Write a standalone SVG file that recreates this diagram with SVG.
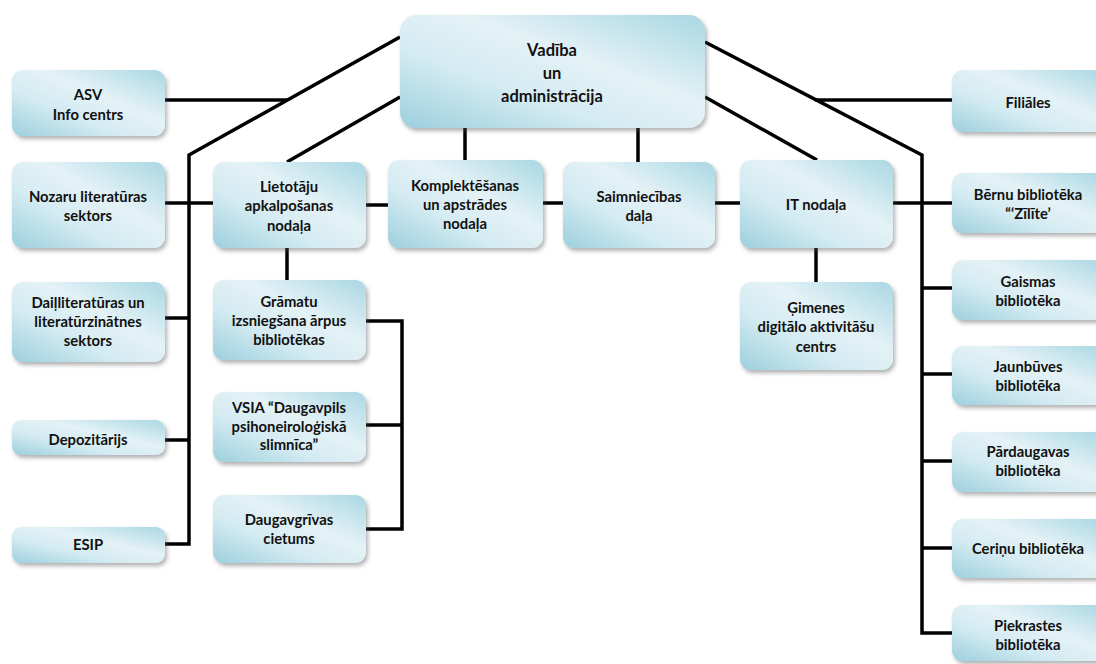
<svg xmlns="http://www.w3.org/2000/svg" width="1096" height="664" viewBox="0 0 1096 664">
<defs>
<linearGradient id="g" x1="0" y1="1" x2="1" y2="0">
<stop offset="0" stop-color="#9ccfdd"/>
<stop offset="0.35" stop-color="#d4ebf2"/>
<stop offset="0.6" stop-color="#e4f2f6"/>
<stop offset="1" stop-color="#a9d7e3"/>
</linearGradient>
<filter id="sh" x="-10%" y="-10%" width="125%" height="135%">
<feDropShadow dx="2" dy="3" stdDeviation="2" flood-color="#555" flood-opacity="0.45"/>
</filter>
</defs>
<style>
.b{fill:url(#g);filter:url(#sh)}
.t{font-family:Lato,"Open Sans","Liberation Sans",sans-serif;font-weight:bold;font-size:14.8px;fill:#111;text-anchor:middle}
.big{font-size:16.5px}
.c{stroke:#000;stroke-width:3.5;fill:none}
</style>
<rect width="1096" height="664" fill="#fff"/>
<g id="connectors">
<polyline class="c" points="400,37 189,155 189,544 165,544"/>
<line class="c" x1="165" y1="100" x2="287" y2="100"/>
<line class="c" x1="165" y1="203" x2="213" y2="203"/>
<line class="c" x1="165" y1="318" x2="189" y2="318"/>
<line class="c" x1="165" y1="440" x2="189" y2="440"/>
<line class="c" x1="400" y1="97" x2="287" y2="162"/>
<line class="c" x1="366" y1="205" x2="388" y2="205"/>
<line class="c" x1="543" y1="203" x2="563" y2="203"/>
<line class="c" x1="715" y1="203" x2="740" y2="203"/>
<line class="c" x1="465" y1="128" x2="465" y2="160"/>
<line class="c" x1="638" y1="128" x2="638" y2="162"/>
<line class="c" x1="287" y1="248" x2="287" y2="280"/>
<polyline class="c" points="366,321 402,321 402,529 366,529"/>
<line class="c" x1="366" y1="425" x2="402" y2="425"/>
<polyline class="c" points="705,42 922,155 922,633 952,633"/>
<line class="c" x1="815" y1="100" x2="952" y2="100"/>
<line class="c" x1="705" y1="97" x2="817" y2="160"/>
<line class="c" x1="893" y1="203" x2="952" y2="203"/>
<line class="c" x1="816" y1="248" x2="816" y2="282"/>
<line class="c" x1="922" y1="288" x2="952" y2="288"/>
<line class="c" x1="922" y1="374" x2="952" y2="374"/>
<line class="c" x1="922" y1="461" x2="952" y2="461"/>
<line class="c" x1="922" y1="548" x2="952" y2="548"/>
</g>
<g id="vadiba"><rect class="b" x="400" y="15" width="305" height="113" rx="16"/>
<text class="t big" x="552" y="56">Vadība</text><text class="t big" x="552" y="79">un</text><text class="t big" x="552" y="102">administrācija</text></g>
<g id="asv"><rect class="b" x="12" y="70" width="153" height="66" rx="11"/>
<text class="t" x="88" y="100">ASV</text><text class="t" x="88" y="120">Info centrs</text></g>
<g id="nozaru"><rect class="b" x="12" y="162" width="153" height="86" rx="11"/>
<text class="t" x="88" y="202">Nozaru literatūras</text><text class="t" x="88" y="221">sektors</text></g>
<g id="lietotaju"><rect class="b" x="213" y="162" width="153" height="86" rx="11"/>
<text class="t" x="289" y="192">Lietotāju</text><text class="t" x="289" y="211">apkalpošanas</text><text class="t" x="289" y="231">nodaļa</text></g>
<g id="komplektesanas"><rect class="b" x="388" y="160" width="155" height="88" rx="11"/>
<text class="t" x="465" y="191">Komplektēšanas</text><text class="t" x="465" y="210">un apstrādes</text><text class="t" x="465" y="229">nodaļa</text></g>
<g id="saimniecibas"><rect class="b" x="563" y="162" width="152" height="86" rx="11"/>
<text class="t" x="639" y="202">Saimniecības</text><text class="t" x="639" y="221">daļa</text></g>
<g id="it"><rect class="b" x="740" y="160" width="153" height="88" rx="11"/>
<text class="t" x="816" y="210">IT nodaļa</text></g>
<g id="filiales"><rect class="b" x="952" y="70" width="153" height="62" rx="11"/>
<text class="t" x="1028" y="108">Filiāles</text></g>
<g id="bernu"><rect class="b" x="952" y="173" width="153" height="60" rx="11"/>
<text class="t" x="1028" y="200">Bērnu bibliotēka</text><text class="t" x="1028" y="219">“‘Zīlīte’</text></g>
<g id="dailliteraturas"><rect class="b" x="12" y="282" width="153" height="80" rx="11"/>
<text class="t" x="88" y="308">Daiļliteratūras un</text><text class="t" x="88" y="327">literatūrzinātnes</text><text class="t" x="88" y="346">sektors</text></g>
<g id="depozitarijs"><rect class="b" x="12" y="420" width="153" height="35" rx="9"/>
<text class="t" x="88" y="445">Depozitārijs</text></g>
<g id="esip"><rect class="b" x="12" y="527" width="153" height="36" rx="9"/>
<text class="t" x="88" y="550">ESIP</text></g>
<g id="gramatu"><rect class="b" x="213" y="280" width="153" height="80" rx="11"/>
<text class="t" x="289" y="307">Grāmatu</text><text class="t" x="289" y="326">izsniegšana ārpus</text><text class="t" x="289" y="345">bibliotēkas</text></g>
<g id="vsia"><rect class="b" x="213" y="392" width="153" height="70" rx="11"/>
<text class="t" x="289" y="413">VSIA “Daugavpils</text><text class="t" x="289" y="432">psihoneiroloģiskā</text><text class="t" x="289" y="450">slimnīca”</text></g>
<g id="daugavgrivas"><rect class="b" x="213" y="495" width="153" height="68" rx="11"/>
<text class="t" x="289" y="525">Daugavgrīvas</text><text class="t" x="289" y="544">cietums</text></g>
<g id="gimenes"><rect class="b" x="740" y="282" width="153" height="88" rx="11"/>
<text class="t" x="816" y="313">Ģimenes</text><text class="t" x="816" y="332">digitālo aktivitāšu</text><text class="t" x="816" y="352">centrs</text></g>
<g id="gaismas"><rect class="b" x="952" y="260" width="153" height="60" rx="11"/>
<text class="t" x="1028" y="287">Gaismas</text><text class="t" x="1028" y="306">bibliotēka</text></g>
<g id="jaunbuves"><rect class="b" x="952" y="346" width="153" height="59" rx="11"/>
<text class="t" x="1028" y="372">Jaunbūves</text><text class="t" x="1028" y="391">bibliotēka</text></g>
<g id="pardaugavas"><rect class="b" x="952" y="432" width="153" height="60" rx="11"/>
<text class="t" x="1028" y="457">Pārdaugavas</text><text class="t" x="1028" y="476">bibliotēka</text></g>
<g id="cerinu"><rect class="b" x="952" y="519" width="153" height="59" rx="11"/>
<text class="t" x="1028" y="554">Ceriņu bibliotēka</text></g>
<g id="piekrastes"><rect class="b" x="952" y="605" width="153" height="56" rx="11"/>
<text class="t" x="1028" y="631">Piekrastes</text><text class="t" x="1028" y="650">bibliotēka</text></g>
</svg>
